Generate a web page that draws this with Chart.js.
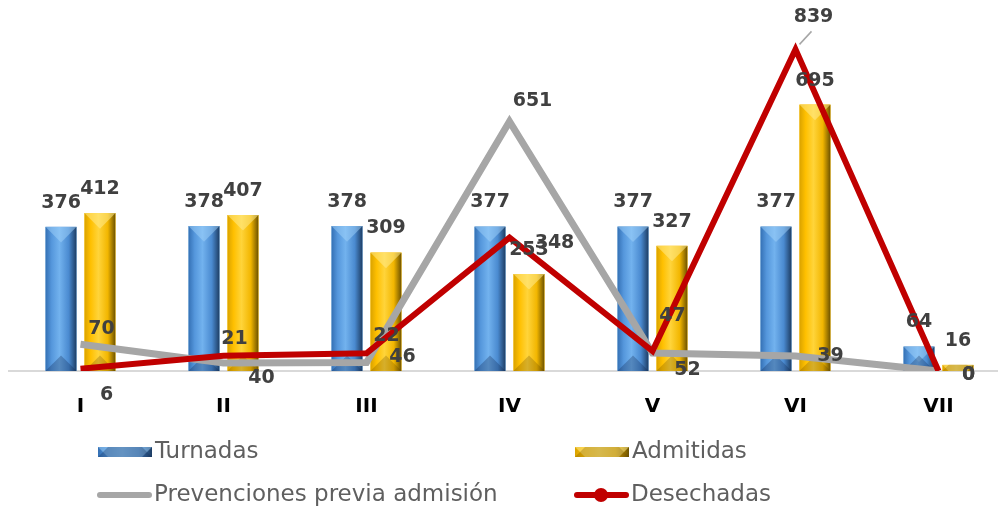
<!DOCTYPE html>
<html>
<head>
<meta charset="utf-8">
<script src="https://cdn.jsdelivr.net/npm/chart.js@4.4.1/dist/chart.umd.min.js"></script>
<style>
    html, body { margin: 0; padding: 0; background: #fff; overflow: hidden; }
    #wrap { width: 1010px; height: 512px; }
</style>
</head>
<body>
<div id="wrap"><canvas id="combo-chart"></canvas></div>
<script>
// values
var categories = ["I", "II", "III", "IV", "V", "VI", "VII"];
var turnadas = [376, 378, 378, 377, 377, 377, 64];
var admitidas = [412, 407, 309, 253, 327, 695, 16];
var prevenciones = [70, 21, 22, 651, 47, 39, 0];
var desechadas = [6, 40, 46, 348, 52, 839, 0];

// where each line label sits relative to its point (dx, dy)
var grayLabelShift = [[21, -15], [11, -24], [20, -27], [23, -20], [20, -37], [35, 0], [30, 4]];
var redLabelShift = [[26, 26], [38, 22], [36, 4], [45, 5], [35, 19], [18, -32], [30, 4]];

var looks = {
    blue: {stops: ['#3470b4', '#5597dc', '#72b2ee', '#4a8ad0', '#1d3c62'], top: 'rgba(160,210,250,0.5)', bottom: 'rgba(15,40,80,0.3)'},
    yellow: {stops: ['#d9a200', '#ffc000', '#ffd43a', '#f2b600', '#6a5000'], top: 'rgba(255,235,140,0.55)', bottom: 'rgba(90,65,0,0.25)'}
};

function paintBar(ctx, left, top, w, h, look) {
    if (h <= 0) return;
    ctx.save();
    ctx.beginPath();
    ctx.rect(left, top, w, h);
    ctx.clip();
    var g = ctx.createLinearGradient(left, 0, left + w, 0);
    g.addColorStop(0, look.stops[0]);
    g.addColorStop(0.2, look.stops[1]);
    g.addColorStop(0.45, look.stops[2]);
    g.addColorStop(0.75, look.stops[3]);
    g.addColorStop(1, look.stops[4]);
    ctx.fillStyle = g;
    ctx.fillRect(left, top, w, h);
    // top bevel
    ctx.fillStyle = look.top;
    ctx.beginPath();
    ctx.moveTo(left, top);
    ctx.lineTo(left + w, top);
    ctx.lineTo(left + w / 2, top + w / 2);
    ctx.closePath();
    ctx.fill();
    // bottom bevel
    ctx.fillStyle = look.bottom;
    ctx.beginPath();
    ctx.moveTo(left, top + h);
    ctx.lineTo(left + w, top + h);
    ctx.lineTo(left + w / 2, top + h - w / 2);
    ctx.closePath();
    ctx.fill();
    ctx.restore();
}

var bevelBars = {
    id: 'bevelBars',
    afterDatasetDraw: function (chart, args) {
        var meta = args.meta;
        if (meta.type !== 'bar') return;
        var look = args.index === 0 ? looks.blue : looks.yellow;
        var ctx = chart.ctx;
        meta.data.forEach(function (bar) {
            var p = bar.getProps(['x', 'y', 'base', 'width'], true);
            paintBar(ctx, p.x - p.width / 2, p.y, p.width, p.base - p.y, look);
        });
    }
};

var valueLabels = {
    id: 'valueLabels',
    afterDatasetsDraw: function (chart) {
        var ctx = chart.ctx;
        ctx.save();
        ctx.font = 'bold 19px "DejaVu Sans"';
        ctx.fillStyle = '#404040';
        ctx.textAlign = 'center';
        ctx.textBaseline = 'middle';
        chart.data.datasets.forEach(function (ds, i) {
            var meta = chart.getDatasetMeta(i);
            meta.data.forEach(function (el, j) {
                var dx = 0, dy = -24;
                if (i === 2) { dx = grayLabelShift[j][0]; dy = grayLabelShift[j][1]; }
                if (i === 3) { dx = redLabelShift[j][0]; dy = redLabelShift[j][1]; }
                ctx.fillText(String(ds.data[j]), el.x + dx, el.y + dy);
            });
        });
        // leader line for the peak
        var peak = chart.getDatasetMeta(3).data[5];
        ctx.strokeStyle = '#a6a6a6';
        ctx.lineWidth = 1.5;
        ctx.beginPath();
        ctx.moveTo(peak.x + 4, peak.y - 5);
        ctx.lineTo(peak.x + 16, peak.y - 18);
        ctx.stroke();
        ctx.restore();
    }
};

var legendItems = [
    {text: 'Turnadas', x: 98, y: 452, kind: 'blue'},
    {text: 'Admitidas', x: 575, y: 452, kind: 'yellow'},
    {text: 'Prevenciones previa admisión', x: 97, y: 495, kind: 'gray'},
    {text: 'Desechadas', x: 574, y: 495, kind: 'red'}
];

var sideLegend = {
    id: 'sideLegend',
    afterDraw: function (chart) {
        var ctx = chart.ctx;
        ctx.save();
        legendItems.forEach(function (it) {
            if (it.kind === 'blue' || it.kind === 'yellow') {
                paintBar(ctx, it.x, it.y - 5, 54, 10, looks[it.kind]);
            } else {
                ctx.strokeStyle = it.kind === 'gray' ? '#a6a6a6' : '#c00000';
                ctx.lineWidth = 6;
                ctx.lineCap = 'round';
                ctx.beginPath();
                ctx.moveTo(it.x + 3, it.y);
                ctx.lineTo(it.x + 52, it.y);
                ctx.stroke();
                if (it.kind === 'red') {
                    ctx.fillStyle = '#c00000';
                    ctx.beginPath();
                    ctx.arc(it.x + 27, it.y, 7, 0, Math.PI * 2);
                    ctx.fill();
                }
            }
            ctx.font = '23px "DejaVu Sans"';
            ctx.fillStyle = '#5f5f5f';
            ctx.textAlign = 'left';
            ctx.textBaseline = 'middle';
            ctx.fillText(it.text, it.x + 57, it.y);
        });
        ctx.restore();
    }
};

var ctx = document.getElementById("combo-chart");
var comboChart = new Chart(ctx, {
    type: 'bar',
    data: {
        labels: categories,
        datasets: [{
            label: 'Turnadas',
            data: turnadas,
            backgroundColor: '#5b9bd5',
            order: 3
        }, {
            label: 'Admitidas',
            data: admitidas,
            backgroundColor: '#ffc000',
            order: 3
        }, {
            type: 'line',
            label: 'Prevenciones previa admisión',
            data: prevenciones,
            borderColor: '#a6a6a6',
            borderWidth: 7,
            borderJoinStyle: 'miter',
            pointRadius: 0,
            tension: 0,
            order: 2
        }, {
            type: 'line',
            label: 'Desechadas',
            data: desechadas,
            borderColor: '#c00000',
            borderWidth: 6,
            borderJoinStyle: 'miter',
            pointRadius: 0,
            tension: 0,
            order: 1
        }]
    },
    options: {
        responsive: true,
        maintainAspectRatio: false,
        animation: false,
        layout: {padding: {top: 26, left: 9, right: 0, bottom: 0}},
        datasets: {bar: {categoryPercentage: 0.545, barPercentage: 0.8}},
        plugins: {legend: {display: false}, tooltip: {enabled: false}},
        scales: {
            x: {
                grid: {display: false, drawTicks: false},
                border: {display: true, color: '#d9d9d9', width: 2},
                ticks: {padding: 24, color: '#000', font: {family: 'DejaVu Sans', weight: 'bold', size: 20}},
                afterFit: function (scale) { scale.height = 141; }
            },
            y: {display: false, min: 0, max: 900}
        }
    },
    plugins: [bevelBars, valueLabels, sideLegend]
});
</script>
</body>
</html>
